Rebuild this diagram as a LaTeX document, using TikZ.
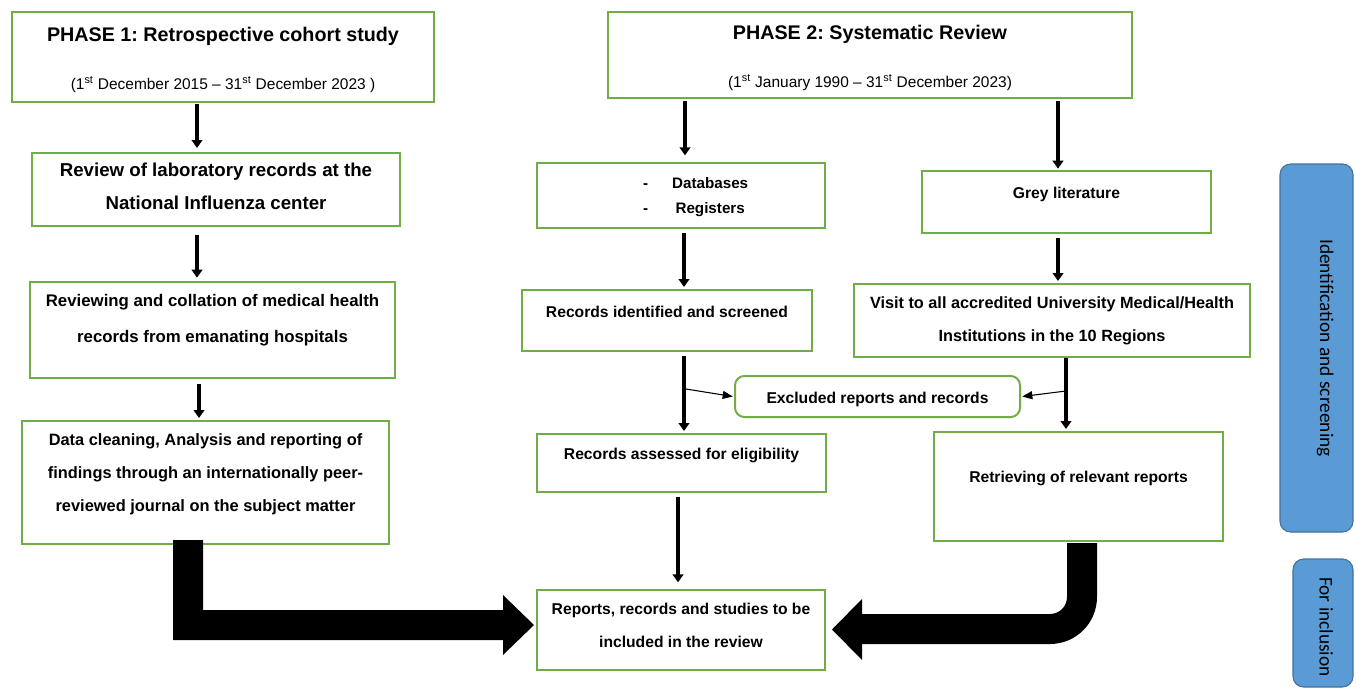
\documentclass[tikz,border=0pt]{standalone}
\usepackage{fontspec}
\setmainfont{Liberation Sans}
\newfontfamily\calibri{Carlito}
\usetikzlibrary{arrows.meta}
\definecolor{boxgreen}{HTML}{70AD47}
\definecolor{sidefill}{HTML}{5B9BD5}
\definecolor{sidedraw}{HTML}{41719C}
\newcommand\upby[2]{\raisebox{#1}[\height][\depth]{\begin{tabular}{@{}c@{}}#2\end{tabular}}}
\tikzset{
  box/.style={draw=boxgreen, line width=1.5pt, fill=white, align=center, inner sep=2pt,
    font=\bfseries\fontsize{11.75}{24.75}\selectfont},
  sidebox/.style={draw=sidedraw, line width=0.8pt, fill=sidefill, rounded corners=8pt},
  sidetext/.style={rotate=-90, font=\calibri\fontsize{14.5}{17}\selectfont},
  arr/.style={line width=3.6pt, -{Triangle[width=8pt,length=6pt]}},
  thinarr/.style={line width=0.8pt, -{Triangle[width=6pt,length=7.5pt]}},
  bigarr/.style={fill=black, draw=none}
}
\begin{document}
\frenchspacing
\begin{tikzpicture}[x=0.75pt,y=-0.75pt]
\useasboundingbox (0,0) rectangle (1356,692);
% boxes
\node[box, minimum width=316.5pt, minimum height=67.5pt] (p1) at (223,57)
  {\upby{-1.3pt}{{\fontsize{14.8}{18}\selectfont PHASE 1: Retrospective cohort study}\\[11.7pt]
   {\mdseries\fontsize{11.6}{13}\selectfont (1\textsuperscript{st} December 2015 \textendash\ 31\textsuperscript{st} December 2023 )}}};
\node[box, minimum width=393pt, minimum height=64.5pt] (p2) at (870,55)
  {\upby{-1.3pt}{{\fontsize{14.8}{18}\selectfont PHASE 2: Systematic Review}\\[11.7pt]
   {\mdseries\fontsize{11.6}{13}\selectfont (1\textsuperscript{st} January 1990 \textendash\ 31\textsuperscript{st} December 2023)}}};
\node[box, minimum width=276pt, minimum height=54.75pt, font=\bfseries\fontsize{14}{24.75}\selectfont] (lab) at (216,189.5)
  {\upby{2.2pt}{Review of laboratory records at the\\National Influenza center}};
\node[box, minimum width=273.75pt, minimum height=72pt, font=\bfseries\fontsize{12.6}{27}\selectfont] (coll) at (212.5,330)
  {\upby{9.3pt}{Reviewing and collation of medical health\\records from emanating hospitals}};
\node[box, minimum width=275.25pt, minimum height=92.25pt, font=\bfseries\fontsize{12.3}{24.75}\selectfont] (data) at (205.5,482.5)
  {\upby{7.7pt}{Data cleaning, Analysis and reporting of\\findings through an internationally peer-\\reviewed journal on the subject matter}};
\node[box, minimum width=216pt, minimum height=48.75pt, font=\bfseries\fontsize{11.4}{18.75}\selectfont] (db) at (681,195.5)
  {\begin{tabular}{@{\hspace{22pt}}c@{\hspace{18pt}}c@{}}-&Databases\\-&Registers\end{tabular}};
\node[box, minimum width=216.75pt, minimum height=46.5pt] (grey) at (1066.5,202)
  {\upby{7.4pt}{Grey literature}};
\node[box, minimum width=217.5pt, minimum height=45.75pt] (rid) at (667,320.5)
  {\upby{7pt}{Records identified and screened}};
\node[box, minimum width=297pt, minimum height=54.75pt, font=\bfseries\fontsize{12.2}{25}\selectfont] (visit) at (1052,320.5)
  {\upby{1.7pt}{Visit to all accredited University Medical/Health\\Institutions in the 10 Regions}};
\node[box, rounded corners=7pt, minimum width=213.75pt, minimum height=30.75pt] (excl) at (877.5,396.5)
  {\upby{0pt}{Excluded reports and records}};
\node[box, minimum width=216.75pt, minimum height=43.5pt] (assess) at (681.5,463)
  {\upby{7.4pt}{Records assessed for eligibility}};
\node[box, minimum width=216.75pt, minimum height=81.75pt] (retr) at (1078.5,486.5)
  {\upby{7.7pt}{Retrieving of relevant reports}};
\node[box, minimum width=216pt, minimum height=60pt] (rep) at (681,630)
  {\upby{4pt}{Reports, records and studies to be\\included in the review}};
\node[sidebox, minimum width=54.75pt, minimum height=276pt] (side1) at (1316.5,348) {};
\node[sidetext] (side1t) at ([xshift=6.5pt]side1.center) {Identification and screening};
\node[sidebox, minimum width=45pt, minimum height=96pt] (side2) at (1323,623) {};
\node[sidetext] (side2t) at ([xshift=2.5pt,yshift=-3pt]side2.center) {For inclusion};
% straight arrows
\draw[arr] ([yshift=-0.75pt]p1.south -| 197,0) -- ([yshift=3pt]lab.north -| 197,0);
\draw[arr] ([yshift=-6pt]lab.south -| 197,0) -- ([yshift=2.5pt]coll.north -| 197,0);
\draw[arr] ([yshift=-3.75pt]coll.south -| 199,0) -- ([yshift=1.5pt]data.north -| 199,0);
\draw[arr] ([yshift=-1.5pt]p2.south -| 685,0) -- ([yshift=5pt]db.north -| 685,0);
\draw[arr] ([yshift=-1.5pt]p2.south -| 1058,0) -- ([yshift=1pt]grey.north -| 1058,0);
\draw[arr] ([yshift=-3pt]db.south -| 684,0) -- ([yshift=1.5pt]rid.north -| 684,0);
\draw[arr] ([yshift=-3pt]grey.south -| 1058,0) -- ([yshift=1.5pt]visit.north -| 1058,0);
\draw[arr] ([yshift=-3pt]rid.south -| 684,0) -- ([yshift=1.5pt]assess.north -| 684,0);
\draw[arr] (visit.south -| 1066,0) -- ([yshift=1.5pt]retr.north -| 1066,0);
\draw[arr] ([yshift=-3pt]assess.south -| 678,0) -- ([yshift=5pt]rep.north -| 678,0);
% thin arrows to excluded
\coordinate (e1) at (686,389);
\coordinate (e2) at (1066,391);
\draw[thinarr] (e1) -- ([xshift=-1pt]excl.west);
\draw[thinarr] (e2) -- ([xshift=1pt]excl.east);
% big arrows
\fill[bigarr] (173,540) -- (203,540) -- (203,610) -- (503,610) -- (503,595) -- (534,625)
  -- (503,655) -- (503,640) -- (173,640) -- cycle;
\fill[bigarr] (1067,543) -- (1097,543) -- (1097,597)
  .. controls (1097,623) and (1076,644) .. (1050,644)
  -- (862,644) -- (862,660) -- (832,629.5) -- (862,599) -- (862,614) -- (1050,614)
  .. controls (1059.4,614) and (1067,606.4) .. (1067,597) -- cycle;
\end{tikzpicture}
\end{document}
